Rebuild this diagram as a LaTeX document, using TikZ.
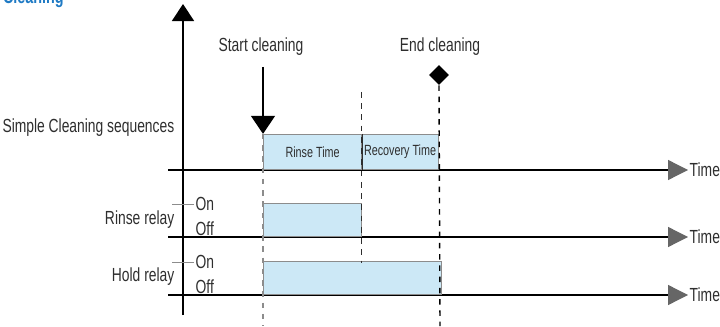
\documentclass[tikz,border=0pt]{standalone}
\usepackage{fontspec}
\setmainfont{Liberation Sans}[FakeStretch=0.73]
\usetikzlibrary{positioning,arrows.meta,shapes.geometric}
\definecolor{phasefill}{HTML}{CCE8F6}
\definecolor{phaseedge}{HTML}{8C8C8C}
\definecolor{labelgray}{HTML}{2E2E2E}
\definecolor{headblue}{HTML}{1F7AC4}
\definecolor{tipgray}{HTML}{666666}

\begin{document}
\begin{tikzpicture}[
    x=0.025cm, y=-0.025cm,
    label/.style={
        font=\fontsize{13.5}{15}\selectfont,
        text=labelgray,
        inner sep=1pt
    },
    small/.style={font=\fontsize{10.5}{12}\selectfont, text=labelgray, inner sep=0pt},
    phase/.style={
        draw=phaseedge,
        fill=phasefill,
        line width=0.8pt,
        inner sep=0pt,
        anchor=south west,
        minimum height=0.875cm
    },
    relaybox/.style={phase, minimum height=0.825cm},
    axis/.style={line width=1pt, -{Triangle[length=0.425cm, width=0.55cm]}},
    timeline/.style={line width=0.9pt, -{Triangle[length=0.5cm, width=0.5cm, color=tipgray]}},
    marker/.style={dash pattern=on 4pt off 4pt, line width=0.8pt},
    tick/.style={phaseedge, line width=0.6pt}
]
\useasboundingbox (0,0) rectangle (720,327);

% heading, cut at the top edge
\node[font=\bfseries\fontsize{14}{16}\selectfont, text=headblue, anchor=base east, inner sep=0pt] (head) at (64,4) {Cleaning};

% vertical axis
\coordinate (yfoot) at (183,315);
\coordinate (ytop) at (183,4);
\draw[axis] (yfoot) -- (ytop);

% time axes
\coordinate (t1) at (168,170);
\coordinate (t2) at (168,237);
\coordinate (t3) at (168,295);
\node[label, anchor=west] (time1) at (688,170) {Time};
\node[label, anchor=west] (time2) at (688,237) {Time};
\node[label, anchor=west] (time3) at (688,295) {Time};
\draw[timeline] (t1) -- (time1.west);
\draw[timeline] (t2) -- (time2.west);
\draw[timeline] (t3) -- (time3.west);

% row labels
\node[label, anchor=east] (seq) at (176,128) {Simple Cleaning sequences};
\node[label, anchor=east] (rinselbl) at (176,220) {Rinse relay};
\node[label, anchor=east] (holdlbl) at (176,277) {Hold relay};

% on / off levels
\node[label, anchor=west] (on1) at (194,204) {On};
\node[label, anchor=west] (off1) at (194,229) {Off};
\node[label, anchor=west] (on2) at (194,262) {On};
\node[label, anchor=west] (off2) at (194,287) {Off};
\coordinate (tk1) at (172,204);
\coordinate (tk2) at (172,262);
\draw[tick] (tk1) -- (on1.west);
\draw[tick] (tk2) -- (on2.west);

% sequence phases
\node[phase, minimum width=2.45cm] (rinse) at (263,170) {};
\node[phase, minimum width=1.925cm] (recovery) at (361,170) {};
\node[small] at (rinse.center) {Rinse Time};
\node[small] at (recovery.center) {Recovery Time};
\draw[labelgray, line width=0.8pt] (rinse.north east) -- (rinse.south east);

% relay states
\node[relaybox, minimum width=2.45cm] (rinserelay) at (263,237) {};
\node[relaybox, minimum width=4.45cm] (holdrelay) at (263,295) {};

% start / end events
\node[label] (start) at (261,47) {Start cleaning};
\node[label] (end) at (440,47) {End cleaning};
\coordinate (startfoot) at (263,67);
\draw[line width=1pt, -{Triangle[length=0.45cm, width=0.6cm]}] (startfoot) -- (rinse.north west);
\node[diamond, fill=black, minimum size=0.5cm, inner sep=0pt] (endmark) at (439,75) {};

% event markers
\coordinate (s1) at (263,326);
\coordinate (m0) at (361,92);
\coordinate (m1) at (361,263);
\coordinate (e1) at (440,326);
\draw[marker, phaseedge] (rinse.north west) -- (s1);
\draw[marker, labelgray, line width=0.6pt] (m0) -- (m1);
\draw[marker, black, line width=1pt] (endmark.south) -- (e1);

\end{tikzpicture}
\end{document}
